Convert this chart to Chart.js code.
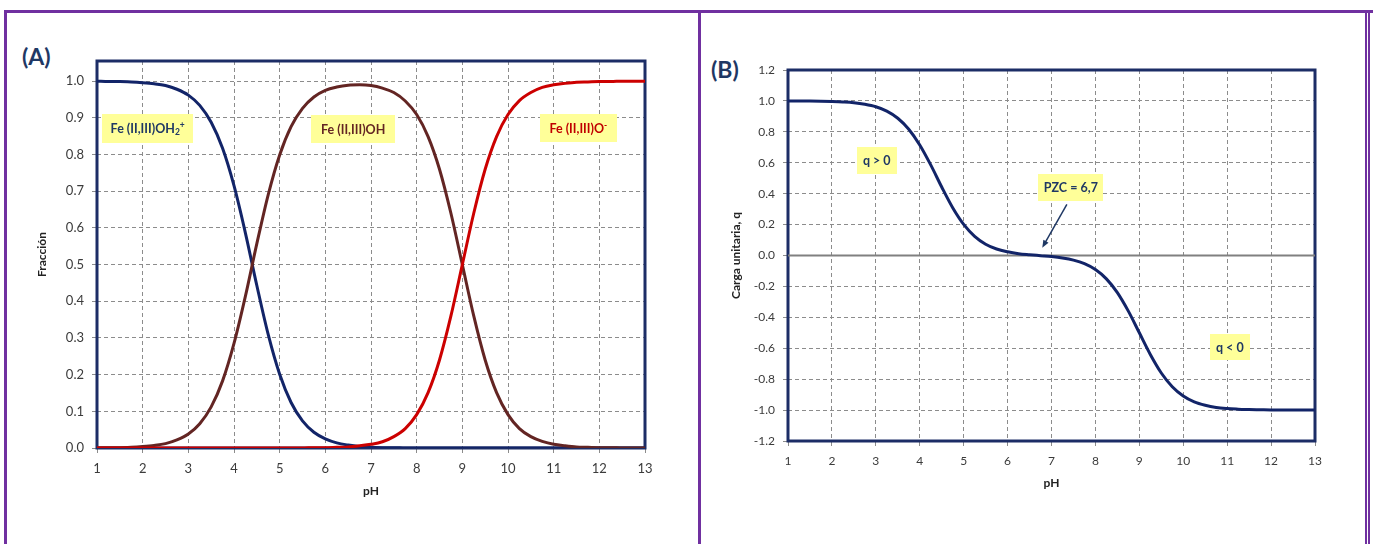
<!DOCTYPE html>
<html lang="es">
<head>
<meta charset="utf-8">
<title>Especiación y carga superficial</title>
<script src="https://cdn.jsdelivr.net/npm/chart.js@4.4.1/dist/chart.umd.min.js"></script>
<style>
  html, body { margin: 0; padding: 0; background: #fff; }
  body { position: relative; width: 1373px; height: 544px; overflow: hidden; font-family: Lato, "Open Sans", sans-serif; }
  .marco { position: absolute; background: #7030a0; }
  .panel-tag { position: absolute; font: bold 23px Lato, sans-serif; color: #1f3864; line-height: 1; }
  canvas { position: absolute; }
</style>
</head>
<body>
<div class="marco" style="left:4px; top:10px; width:1369px; height:3px;"></div>
<div class="marco" style="left:4px; top:10px; width:3px; height:534px;"></div>
<div class="marco" style="left:698px; top:10px; width:3px; height:534px;"></div>
<div class="marco" style="left:1365px; top:10px; width:2px; height:534px;"></div>
<div class="marco" style="left:1368px; top:10px; width:2px; height:534px;"></div>

<div class="panel-tag" style="left:22px; top:45px;">(A)</div>
<div class="panel-tag" style="left:711px; top:58px;">(B)</div>

<canvas id="chart-a" width="690" height="530" style="left:8px; top:14px; width:690px; height:530px;"></canvas>
<canvas id="chart-b" width="662" height="530" style="left:702px; top:14px; width:662px; height:530px;"></canvas>

<script>
// valores (pH cada 0,25)
const phValues = [
  1, 1.25, 1.5, 1.75, 2, 2.25, 2.5, 2.75, 3, 3.25, 3.5, 3.75, 4, 4.25, 4.5, 4.75,
  5, 5.25, 5.5, 5.75, 6, 6.25, 6.5, 6.75, 7, 7.25, 7.5, 7.75, 8, 8.25, 8.5, 8.75,
  9, 9.25, 9.5, 9.75, 10, 10.25, 10.5, 10.75, 11, 11.25, 11.5, 11.75, 12, 12.25, 12.5, 12.75, 13,
];

// Fe(II,III)OH2+
const fracOH2 = [
  1.000, 0.999, 0.999, 0.998, 0.996, 0.993, 0.988, 0.978, 0.962, 0.934, 0.888, 0.817, 0.715, 0.586, 0.443, 0.309,
  0.201, 0.124, 0.074, 0.043, 0.025, 0.014, 0.008, 0.004, 0.002, 0.001, 0.001, 0.000, 0.000, 0.000, 0.000, 0.000,
  0.000, 0.000, 0.000, 0.000, 0.000, 0.000, 0.000, 0.000, 0.000, 0.000, 0.000, 0.000, 0.000, 0.000, 0.000, 0.000, 0.000,
];

// Fe(II,III)OH
const fracOH = [
  0.000, 0.001, 0.001, 0.002, 0.004, 0.007, 0.012, 0.022, 0.038, 0.066, 0.112, 0.183, 0.285, 0.414, 0.557, 0.691,
  0.799, 0.876, 0.926, 0.957, 0.975, 0.984, 0.989, 0.990, 0.988, 0.981, 0.969, 0.946, 0.909, 0.849, 0.760, 0.640,
  0.500, 0.360, 0.240, 0.151, 0.091, 0.053, 0.031, 0.018, 0.010, 0.006, 0.003, 0.002, 0.001, 0.001, 0.000, 0.000, 0.000,
];

// Fe(II,III)O-
const fracO = [
  0.000, 0.000, 0.000, 0.000, 0.000, 0.000, 0.000, 0.000, 0.000, 0.000, 0.000, 0.000, 0.000, 0.000, 0.000, 0.000,
  0.000, 0.000, 0.000, 0.001, 0.001, 0.002, 0.003, 0.006, 0.010, 0.017, 0.031, 0.053, 0.091, 0.151, 0.240, 0.360,
  0.500, 0.640, 0.760, 0.849, 0.909, 0.947, 0.969, 0.983, 0.990, 0.994, 0.997, 0.998, 0.999, 0.999, 1.000, 1.000, 1.000,
];

// carga unitaria q
const cargaQ = [
  1.000, 0.999, 0.999, 0.998, 0.996, 0.993, 0.988, 0.978, 0.962, 0.934, 0.888, 0.817, 0.715, 0.586, 0.443, 0.309,
  0.201, 0.124, 0.073, 0.042, 0.024, 0.012, 0.005, -0.001, -0.007, -0.016, -0.030, -0.053, -0.091, -0.151, -0.240, -0.360,
  -0.500, -0.640, -0.760, -0.849, -0.909, -0.947, -0.969, -0.983, -0.990, -0.994, -0.997, -0.998, -0.999, -0.999, -1.000, -1.000, -1.000,
];

const zeroPh = [1, 13];
const zeroQ = [0, 0];

const phTicks = [1, 2, 3, 4, 5, 6, 7, 8, 9, 10, 11, 12, 13];
const fracTicks = [0, 0.1, 0.2, 0.3, 0.4, 0.5, 0.6, 0.7, 0.8, 0.9, 1.0];
const cargaTicks = [-1.2, -1.0, -0.8, -0.6, -0.4, -0.2, 0, 0.2, 0.4, 0.6, 0.8, 1.0, 1.2];

const NAVY = "#1f3864";
const FRAME = "#1c2d66";
const BLUE = "#122468";
const BROWN = "#632523";
const RED = "#cc0000";
const GRID = "#8c8c8c";
const TEXT = "#3b3b3b";
const YELLOW = "#ffff99";

Chart.defaults.font.family = "Lato, 'Open Sans', sans-serif";
Chart.defaults.color = TEXT;

// etiquetas amarillas (posición en unidades de los ejes)
const etiquetasA = [
  { partes: [["Fe (II,III)OH", ""], ["2", "sub"], ["+", "sup"]], ph: 2.11, valor: 0.871, ancho: 91, alto: 29, color: NAVY },
  { partes: [["Fe (II,III)OH", ""]], ph: 6.61, valor: 0.869, ancho: 84, alto: 28, color: BROWN },
  { partes: [["Fe (II,III)O", ""], ["-", "sup"]], ph: 11.54, valor: 0.872, ancho: 77, alto: 28, color: "#c00000" },
];

const etiquetasB = [
  { partes: [["q > 0", ""]], ph: 3.02, valor: 0.615, ancho: 40, alto: 27, color: NAVY },
  { partes: [["PZC = 6,7", ""]], ph: 7.44, valor: 0.438, ancho: 65, alto: 27, color: NAVY },
  { partes: [["q < 0", ""]], ph: 11.06, valor: -0.595, ancho: 40, alto: 26, color: NAVY },
];

const flechaB = { desde: [7.35, 0.33], hasta: [6.79, 0.05] };

function toPoints(xs, ys) {
  return xs.map((x, i) => ({ x, y: ys[i] }));
}

function fixedTicks(values) {
  return (scale) => {
    scale.ticks = values.map((value) => ({ value }));
  };
}

function drawEtiqueta(ctx, chart, etq) {
  const cx = chart.scales.x.getPixelForValue(etq.ph);
  const cy = chart.scales.y.getPixelForValue(etq.valor);
  const size = 12.5;

  ctx.save();
  ctx.fillStyle = YELLOW;
  ctx.fillRect(Math.round(cx - etq.ancho / 2), Math.round(cy - etq.alto / 2), etq.ancho, etq.alto);

  const piezas = etq.partes.map(([text, kind]) => {
    const s = kind ? size * 0.68 : size;
    ctx.font = `bold ${s}px Lato, sans-serif`;
    return { text, kind, s, w: ctx.measureText(text).width };
  });
  const total = piezas.reduce((acc, p) => acc + p.w, 0);
  let x = cx - total / 2;
  ctx.fillStyle = etq.color;
  ctx.textBaseline = "alphabetic";
  ctx.textAlign = "left";
  const base = cy + size * 0.36;
  piezas.forEach((p) => {
    ctx.font = `bold ${p.s}px Lato, sans-serif`;
    let y = base;
    if (p.kind === "sub") y = base + 2.5;
    if (p.kind === "sup") y = base - 5;
    ctx.fillText(p.text, x, y);
    x += p.w;
  });
  ctx.restore();
}

function drawFlecha(ctx, chart, flecha) {
  const { x: sx, y: sy } = chart.scales;
  const x0 = sx.getPixelForValue(flecha.desde[0]);
  const y0 = sy.getPixelForValue(flecha.desde[1]);
  const x1 = sx.getPixelForValue(flecha.hasta[0]);
  const y1 = sy.getPixelForValue(flecha.hasta[1]);
  const ang = Math.atan2(y1 - y0, x1 - x0);
  const head = 8;

  ctx.save();
  ctx.strokeStyle = NAVY;
  ctx.fillStyle = NAVY;
  ctx.lineWidth = 1.5;
  ctx.beginPath();
  ctx.moveTo(x0, y0);
  ctx.lineTo(x1 - Math.cos(ang) * head * 0.8, y1 - Math.sin(ang) * head * 0.8);
  ctx.stroke();
  ctx.beginPath();
  ctx.moveTo(x1, y1);
  ctx.lineTo(x1 - head * Math.cos(ang - 0.38), y1 - head * Math.sin(ang - 0.38));
  ctx.lineTo(x1 - head * Math.cos(ang + 0.38), y1 - head * Math.sin(ang + 0.38));
  ctx.closePath();
  ctx.fill();
  ctx.restore();
}

const marcoPlugin = {
  id: "marco",
  beforeDatasetsDraw(chart) {
    const { ctx, chartArea: a } = chart;
    ctx.save();
    ctx.strokeStyle = FRAME;
    ctx.lineWidth = 3;
    ctx.strokeRect(a.left, a.top, a.right - a.left, a.bottom - a.top);
    ctx.restore();
  },
};

const etiquetasPlugin = {
  id: "etiquetas",
  afterDatasetsDraw(chart, args, opts) {
    const { ctx } = chart;
    (opts.items || []).forEach((etq) => drawEtiqueta(ctx, chart, etq));
    if (opts.flecha) drawFlecha(ctx, chart, opts.flecha);
  },
};

function lineDataset(xs, ys, color, order, width = 3) {
  return {
    data: toPoints(xs, ys),
    borderColor: color,
    borderWidth: width,
    pointRadius: 0,
    fill: false,
    cubicInterpolationMode: "monotone",
    order,
  };
}

function buildOptions(cfg) {
  return {
    responsive: false,
    animation: false,
    events: [],
    layout: { padding: cfg.padding },
    plugins: {
      legend: { display: false },
      tooltip: { enabled: false },
      etiquetas: { items: cfg.etiquetas, flecha: cfg.flecha },
    },
    scales: {
      x: {
        type: "linear",
        min: 1,
        max: 13,
        afterBuildTicks: fixedTicks(phTicks),
        afterFit: (scale) => { scale.height = cfg.xHeight; },
        ticks: { font: { size: cfg.tickSize }, padding: cfg.xPad, maxRotation: 0, callback: (v) => String(v) },
        grid: { color: GRID, lineWidth: 1, tickLength: 5 },
        border: { display: false, dash: [4, 3] },
        title: { display: true, text: "pH", font: { size: 12, weight: "bold" }, color: "#222", padding: 0 },
      },
      y: {
        type: "linear",
        min: cfg.yMin,
        max: cfg.yMax,
        afterBuildTicks: fixedTicks(cfg.yTicks),
        afterFit: (scale) => { scale.width = cfg.yWidth; },
        ticks: { font: { size: cfg.tickSize }, padding: cfg.yPad, callback: (v) => Number(v).toFixed(1) },
        grid: { color: GRID, lineWidth: 1, tickLength: 5 },
        border: { display: false, dash: [4, 3] },
        title: { display: true, text: cfg.yTitle, font: { size: 12, weight: "bold" }, color: "#222", padding: 0 },
      },
    },
  };
}

new Chart(document.getElementById("chart-a"), {
  type: "line",
  data: {
    datasets: [
      lineDataset(phValues, fracOH2, BLUE, 2),
      lineDataset(phValues, fracOH, BROWN, 1),
      lineDataset(phValues, fracO, RED, 0),
    ],
  },
  options: buildOptions({
    padding: { left: 27, top: 47, right: 53, bottom: 46 },
    yWidth: 62,
    xHeight: 50,
    yMin: 0,
    yMax: 1.055,
    yTicks: fracTicks,
    yTitle: "Fracción",
    tickSize: 13,
    xPad: 8,
    yPad: 8,
    etiquetas: etiquetasA,
  }),
  plugins: [marcoPlugin, etiquetasPlugin],
});

new Chart(document.getElementById("chart-b"), {
  type: "line",
  data: {
    datasets: [
      lineDataset(zeroPh, zeroQ, "#808080", 1, 2),
      lineDataset(phValues, cargaQ, BLUE, 0),
    ],
  },
  options: buildOptions({
    padding: { left: 27, top: 56, right: 49, bottom: 54 },
    yWidth: 59,
    xHeight: 49,
    yMin: -1.2,
    yMax: 1.2,
    yTicks: cargaTicks,
    yTitle: "Carga unitaria, q",
    tickSize: 12,
    xPad: 8,
    yPad: 8,
    etiquetas: etiquetasB,
    flecha: flechaB,
  }),
  plugins: [marcoPlugin, etiquetasPlugin],
});
</script>
</body>
</html>
